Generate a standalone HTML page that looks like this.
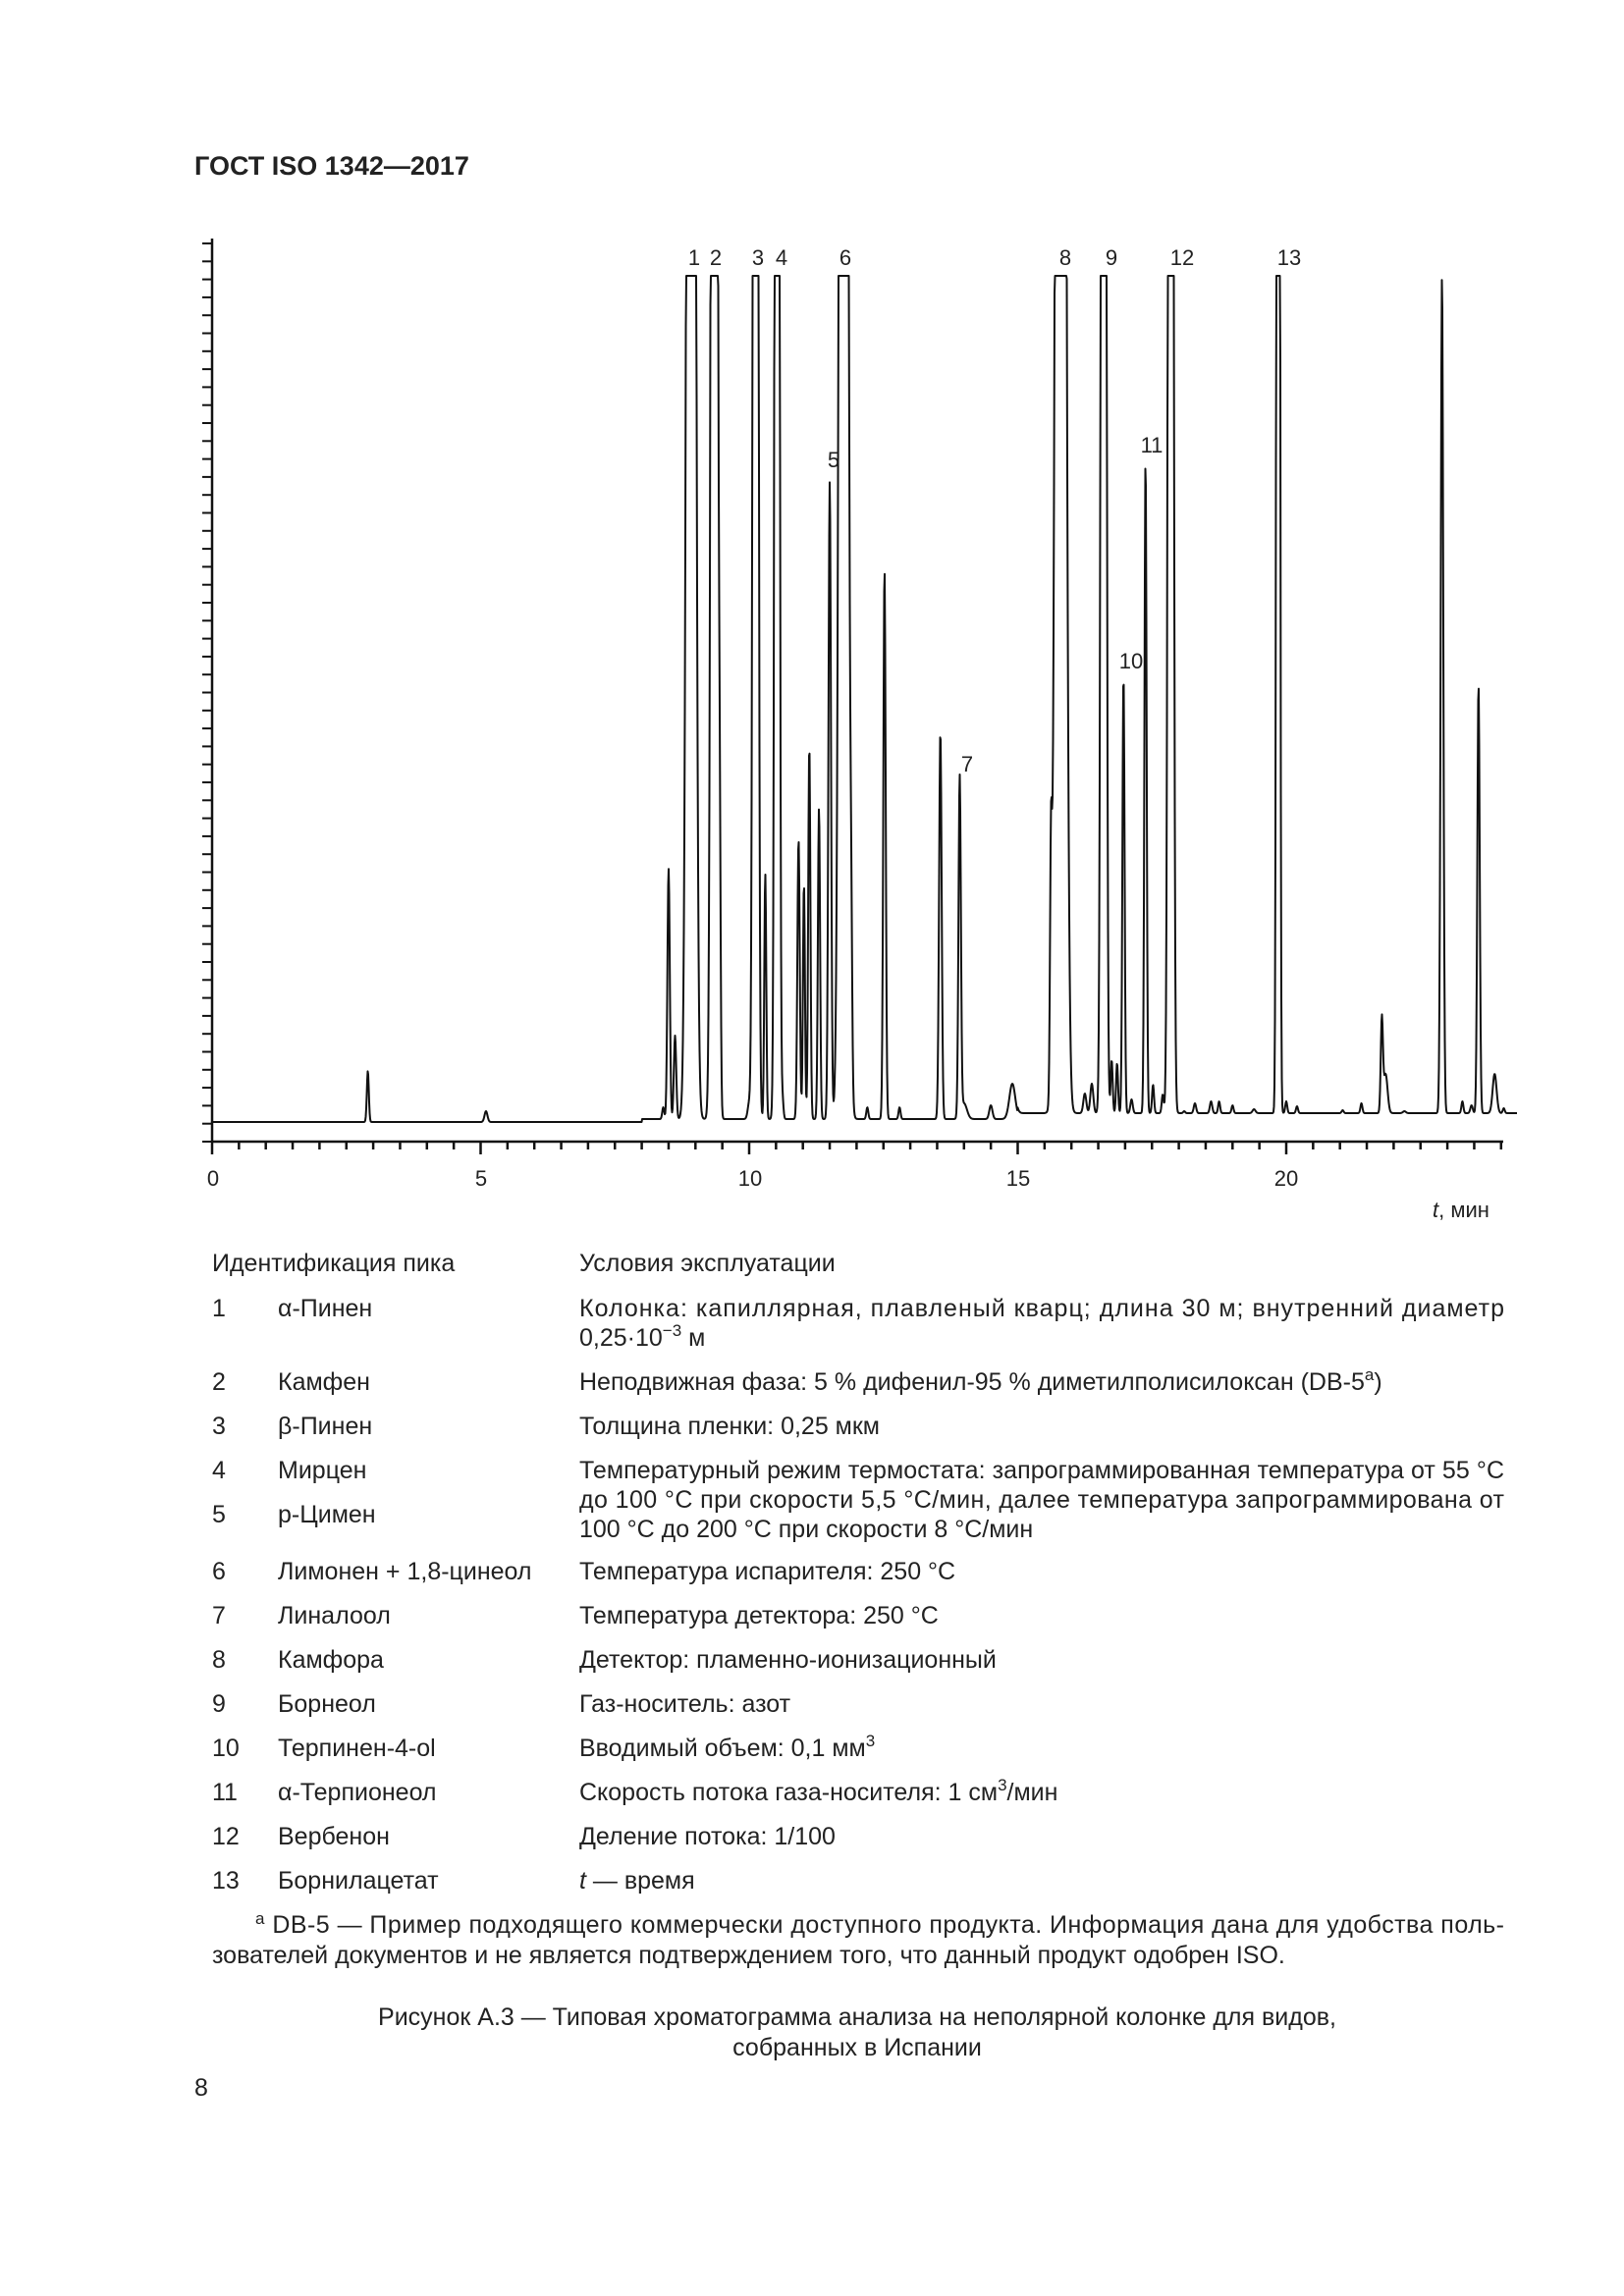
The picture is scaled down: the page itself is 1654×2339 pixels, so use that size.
<!DOCTYPE html>
<html><head><meta charset="utf-8"><style>
html,body{margin:0;padding:0;background:#fff;}
svg{display:block}
text{font-family:"Liberation Sans",sans-serif;fill:#222;}
</style></head><body>
<svg id="s" width="1654" height="2339" viewBox="0 0 1654 2339" xmlns="http://www.w3.org/2000/svg">
<text x="198" y="178" font-size="27" font-weight="bold">ГОСТ ISO 1342—2017</text>
<g id="axes" stroke="#111" stroke-width="2.5" fill="none"></g>
<path id="chrom" stroke="#111" stroke-width="2" fill="none" stroke-linejoin="round"/>
<g font-size="22" text-anchor="middle">
<text x="217" y="1208">0</text><text x="490" y="1208">5</text><text x="764" y="1208">10</text><text x="1037" y="1208">15</text><text x="1310" y="1208">20</text>
<text x="1488" y="1240"><tspan font-style="italic">t</tspan>, мин</text>
<text x="707" y="270">1</text><text x="729" y="270">2</text><text x="772" y="270">3</text><text x="796" y="270">4</text><text x="861" y="270">6</text>
<text x="1085" y="270">8</text><text x="1132" y="270">9</text><text x="1204" y="270">12</text><text x="1313" y="270">13</text>
<text x="849" y="476">5</text><text x="1173" y="461">11</text><text x="1152" y="681">10</text><text x="985" y="786">7</text>
</g>
<g font-size="25" transform="translate(0,-8)">
<text x="216" y="1303">Идентификация пика</text>
<text x="590" y="1303">Условия эксплуатации</text>
<g id="rows"></g>
<text x="590" y="1349" textLength="942" lengthAdjust="spacing">Колонка: капиллярная, плавленый кварц; длина 30 м; внутренний диаметр</text>
<text x="590" y="1379">0,25·10<tspan dy="-10" font-size="17">−3</tspan><tspan dy="10"> м</tspan></text>
<text x="590" y="1424">Неподвижная фаза: 5 % дифенил-95 % диметилполисилоксан (DB-5<tspan dy="-10" font-size="17">a</tspan><tspan dy="10">)</tspan></text>
<text x="590" y="1469">Толщина пленки: 0,25 мкм</text>
<text x="590" y="1514" textLength="942" lengthAdjust="spacing">Температурный режим термостата: запрограммированная температура от 55 °С</text>
<text x="590" y="1544" textLength="942" lengthAdjust="spacing">до 100 °С при скорости 5,5 °С/мин, далее температура запрограммирована от</text>
<text x="590" y="1574">100 °С до 200 °С при скорости 8 °С/мин</text>
<text x="590" y="1617">Температура испарителя: 250 °С</text>
<text x="590" y="1662">Температура детектора: 250 °С</text>
<text x="590" y="1707">Детектор: пламенно-ионизационный</text>
<text x="590" y="1752">Газ-носитель: азот</text>
<text x="590" y="1797">Вводимый объем: 0,1 мм<tspan dy="-10" font-size="17">3</tspan></text>
<text x="590" y="1842">Скорость потока газа-носителя: 1 см<tspan dy="-10" font-size="17">3</tspan><tspan dy="10">/мин</tspan></text>
<text x="590" y="1887">Деление потока: 1/100</text>
<text x="590" y="1932"><tspan font-style="italic">t</tspan> — время</text>
<text x="260" y="1977" textLength="1272" lengthAdjust="spacing"><tspan dy="-9" font-size="17">a</tspan><tspan dy="9"> DB-5 — Пример подходящего коммерчески доступного продукта. Информация дана для удобства поль-</tspan></text>
<text x="216" y="2008">зователей документов и не является подтверждением того, что данный продукт одобрен ISO.</text>
<text x="873" y="2071" text-anchor="middle">Рисунок А.3 — Типовая хроматограмма анализа на неполярной колонке для видов,</text>
<text x="873" y="2102" text-anchor="middle">собранных в Испании</text>
<text x="198" y="2143">8</text>
</g>
</svg>
<script>
var NS="http://www.w3.org/2000/svg";
var ax=document.getElementById('axes');
function ln(x1,y1,x2,y2,w){var l=document.createElementNS(NS,'line');l.setAttribute('x1',x1);l.setAttribute('y1',y1);l.setAttribute('x2',x2);l.setAttribute('y2',y2);if(w)l.setAttribute('stroke-width',w);ax.appendChild(l);}
ln(216,243,216,1164);ln(216,1163,1531,1163);
for(var i=0;i<=50;i++){var y=1163-i*18.3;if(y<243)break;ln(206,y,216,y,2);}
for(var i=0;i<=48;i++){var x=216+i*27.35;if(x>1532)break;ln(x,1163,x,(i%10==0)?1176:1171,2.5);}
var rows=[["1","α-Пинен",1349],["2","Камфен",1424],["3","β-Пинен",1469],["4","Мирцен",1514],["5","р-Цимен",1559],["6","Лимонен + 1,8-цинеол",1617],["7","Линалоол",1662],["8","Камфора",1707],["9","Борнеол",1752],["10","Терпинен-4-ol",1797],["11","α-Терпионеол",1842],["12","Вербенон",1887],["13","Борнилацетат",1932]];
var g=document.getElementById('rows');
rows.forEach(function(r){[[216,r[0]],[283,r[1]]].forEach(function(c){var t=document.createElementNS(NS,'text');t.setAttribute('x',c[0]);t.setAttribute('y',r[2]);t.textContent=c[1];g.appendChild(t);});});
var P=[[2.9,1091,1],[5.1,1132,1.5],[8.4,1128,1],[8.5,885,1.2],[8.62,1055,1.2],[8.92,-3000,3],[9.35,-3000,2.2],[9.45,892,1],[10.0,1124,1.5],[10.12,-3000,1.8],[10.3,890,1],[10.52,-3000,1.6],[10.62,1120,1],[10.92,855,1.2],[11.02,900,1],[11.12,759,1.1],[11.3,823,1.1],[11.5,491,1.3],[11.76,-3000,3],[11.9,1010,1],[12.2,1128,1],[12.52,580,1.2],[12.8,1128,1],[13.56,745,1.3],[13.92,794,1.2],[14.0,1124,3],[14.5,1126,1.6],[14.9,1104,3],[15.62,900,1],[15.8,-3000,3.5],[15.95,1114,1.3],[16.25,1114,1.5],[16.38,1104,1.5],[16.6,-3000,1.8],[16.75,1080,1],[16.85,1083,1],[16.97,687,1.1],[17.12,1120,1.2],[17.38,468,1.1],[17.52,1105,1],[17.7,1115,1],[17.85,-3000,1.8],[18.1,1132,1],[18.3,1124,1.2],[18.6,1122,1.2],[18.75,1122,1],[19.0,1126,1],[19.4,1130,1.5],[19.85,-3000,1.2],[20.0,1122,1],[20.2,1127,1],[20.6,1134,1.5],[21.05,1131,1],[21.4,1124,1],[21.78,1040,1.1],[21.85,1094,2],[22.2,1132,1.5],[22.5,1134,1.5],[22.9,281,1.3],[23.28,1122,1],[23.45,1126,1.2],[23.58,697,1.2],[23.88,1094,2],[24.05,1129,1]];
var d="";
for(var x=216;x<=1545;x+=0.5){
 var t=(x-216)/54.7;
 var base=t<8?1143:(t<15?1140:1134);
 var v=0;
 P.forEach(function(p){var px=216+p[0]*54.7;var dx=x-px;if(Math.abs(dx)<25){var h=base-p[1];var s=p[2];v+=h*Math.exp(-dx*dx/(2*s*s));}});
 var y=base-v; if(y<281)y=281;
 d+=(d?"L":"M")+x.toFixed(1)+" "+y.toFixed(1);
}
document.getElementById('chrom').setAttribute('d',d);
</script>
</body></html>
